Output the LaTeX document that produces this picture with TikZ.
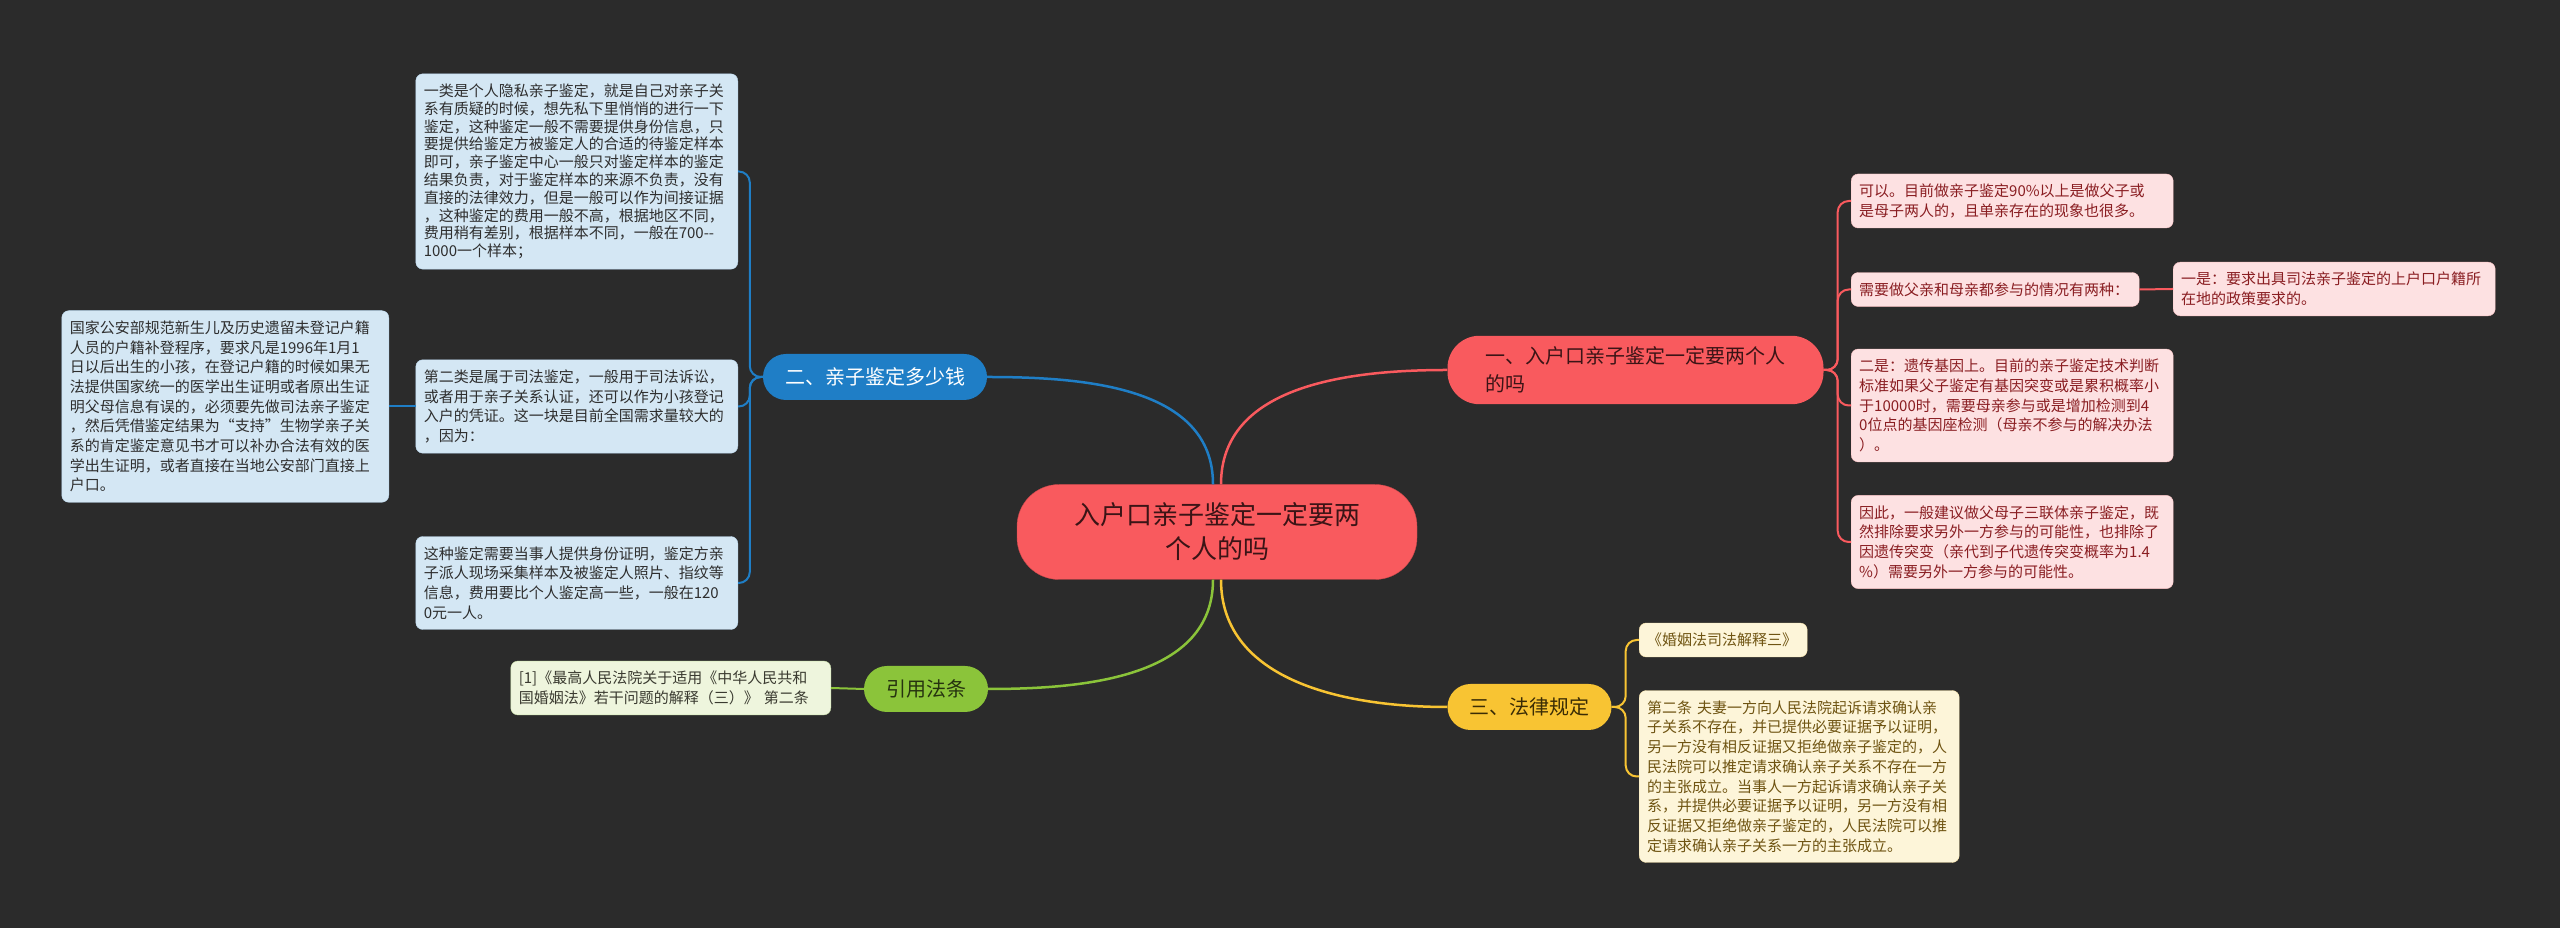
\documentclass[tikz,border=0pt]{standalone}
\usepackage{fontspec}
\setmainfont{Noto Sans CJK SC}
\definecolor{bg}{HTML}{2B2B2B}
\definecolor{rojo}{HTML}{F95A5E}
\definecolor{azul}{HTML}{1F7EC6}
\definecolor{amarillo}{HTML}{F8C433}
\definecolor{verde}{HTML}{8BC43A}
\definecolor{rosa}{HTML}{FDE1E2}
\definecolor{celeste}{HTML}{D4E7F4}
\definecolor{crema}{HTML}{FDF5D9}
\definecolor{pasto}{HTML}{EEF5DD}
\definecolor{tinta}{HTML}{3B1416}
\definecolor{tintarosa}{HTML}{8A1E22}
\definecolor{tintagris}{HTML}{2E2E2E}
\definecolor{tintaocre}{HTML}{6F5412}
\definecolor{tintaoliva}{HTML}{3A3A30}
\definecolor{tintaamar}{HTML}{3A2C05}
\definecolor{tintaverde}{HTML}{26330F}
\begin{document}
\begin{tikzpicture}[x=1pt,y=1pt,
    leaf/.style={rounded corners=7pt, align=left, text width=306pt, inner xsep=8pt, inner ysep=10pt, font=\fontsize{15}{19.7}\selectfont},
    pill/.style={rounded corners=23pt, minimum height=46pt, inner xsep=22pt, font=\fontsize{20}{28}\selectfont}]
    \fill [bg] (0,0) rectangle (2560,928);
    % centro
    \node [fill=rojo, draw=rojo!80!black, text=tinta, rounded corners=42pt, minimum width=400pt, minimum height=95pt, align=center, font=\fontsize{26}{34}\selectfont] (c) at (1217,396) {入户口亲子鉴定一定要两\\个人的吗};
    % ramas
    \node [pill, fill=rojo, text=tinta, text width=300pt, align=left, inner xsep=38pt, inner ysep=11pt, rounded corners=32pt] (r) at (1635.5,558) {一、入户口亲子鉴定一定要两个人\\的吗};
    \node [pill, fill=azul, text=white] (b) at (875,551) {二、亲子鉴定多少钱};
    \node [pill, fill=amarillo, text=tintaamar] (y) at (1529.5,221) {三、法律规定};
    \node [pill, fill=verde, text=tintaverde] (g) at (926,239) {引用法条};
    % hojas rojas
    \node [leaf, fill=rosa, draw=rojo!35, text=tintarosa, anchor=west] (r1) at (1851,727) {可以。目前做亲子鉴定90\%以上是做父子或\\是母子两人的，且单亲存在的现象也很多。};
    \node [leaf, fill=rosa, draw=rojo!35, text=tintarosa, anchor=west, text width=272pt] (r2) at (1851,638.5) {需要做父亲和母亲都参与的情况有两种：};
    \node [leaf, fill=rosa, draw=rojo!35, text=tintarosa, anchor=west] (r2a) at (2173,639) {一是：要求出具司法亲子鉴定的上户口户籍所\\在地的政策要求的。};
    \node [leaf, fill=rosa, draw=rojo!35, text=tintarosa, anchor=west] (r3) at (1851,522.5) {二是：遗传基因上。目前的亲子鉴定技术判断\\标准如果父子鉴定有基因突变或是累积概率小\\于10000时，需要母亲参与或是增加检测到4\\0位点的基因座检测（母亲不参与的解决办法\\）。};
    \node [leaf, fill=rosa, draw=rojo!35, text=tintarosa, anchor=west] (r4) at (1851,386) {因此，一般建议做父母子三联体亲子鉴定，既\\然排除要求另外一方参与的可能性，也排除了\\因遗传突变（亲代到子代遗传突变概率为1.4\\\%）需要另外一方参与的可能性。};
    % hojas azules
    \node [leaf, fill=celeste, draw=azul!30, text=tintagris, anchor=east, font=\fontsize{15}{17.8}\selectfont] (b1) at (738,756.5) {一类是个人隐私亲子鉴定，就是自己对亲子关\\系有质疑的时候，想先私下里悄悄的进行一下\\鉴定，这种鉴定一般不需要提供身份信息，只\\要提供给鉴定方被鉴定人的合适的待鉴定样本\\即可，亲子鉴定中心一般只对鉴定样本的鉴定\\结果负责，对于鉴定样本的来源不负责，没有\\直接的法律效力，但是一般可以作为间接证据\\，这种鉴定的费用一般不高，根据地区不同，\\费用稍有差别，根据样本不同，一般在700{-}{-}\\1000一个样本；};
    \node [leaf, fill=celeste, draw=azul!30, text=tintagris, anchor=east] (b2) at (738,521.5) {第二类是属于司法鉴定，一般用于司法诉讼，\\或者用于亲子关系认证，还可以作为小孩登记\\入户的凭证。这一块是目前全国需求量较大的\\，因为：};
    \node [leaf, fill=celeste, draw=azul!30, text=tintagris, anchor=east, text width=311pt] (b2a) at (389,521.5) {国家公安部规范新生儿及历史遗留未登记户籍\\人员的户籍补登程序，要求凡是1996年1月1\\日以后出生的小孩，在登记户籍的时候如果无\\法提供国家统一的医学出生证明或者原出生证\\明父母信息有误的，必须要先做司法亲子鉴定\\，然后凭借鉴定结果为“支持”生物学亲子关\\系的肯定鉴定意见书才可以补办合法有效的医\\学出生证明，或者直接在当地公安部门直接上\\户口。};
    \node [leaf, fill=celeste, draw=azul!30, text=tintagris, anchor=east] (b3) at (738,345) {这种鉴定需要当事人提供身份证明，鉴定方亲\\子派人现场采集样本及被鉴定人照片、指纹等\\信息，费用要比个人鉴定高一些，一般在120\\0元一人。};
    % hojas amarillas
    \node [leaf, fill=crema, draw=amarillo!40, text=tintaocre, anchor=west, text width=152pt] (y1) at (1639,288) {《婚姻法司法解释三》};
    \node [leaf, fill=crema, draw=amarillo!40, text=tintaocre, anchor=west, text width=304pt] (y2) at (1639,151.5) {第二条 夫妻一方向人民法院起诉请求确认亲\\子关系不存在，并已提供必要证据予以证明，\\另一方没有相反证据又拒绝做亲子鉴定的，人\\民法院可以推定请求确认亲子关系不存在一方\\的主张成立。当事人一方起诉请求确认亲子关\\系，并提供必要证据予以证明，另一方没有相\\反证据又拒绝做亲子鉴定的，人民法院可以推\\定请求确认亲子关系一方的主张成立。};
    % hoja verde
    \node [leaf, fill=pasto, draw=verde!40, text=tintaoliva, anchor=east, text width=304pt] (g1) at (831,240) {[1]《最高人民法院关于适用《中华人民共和\\国婚姻法》若干问题的解释（三）》 第二条};
    % conectores del centro
    \draw [rojo, line width=2.5pt] ([xshift=4pt]c.north) to[out=90,in=180] (r.west);
    \draw [azul, line width=2.5pt] ([xshift=-4pt]c.north) to[out=90,in=0] (b.east);
    \draw [verde, line width=2.5pt] ([xshift=-4pt]c.south) to[out=-90,in=0] (g.east);
    \draw [amarillo, line width=2.5pt] ([xshift=4pt]c.south) to[out=-90,in=180] (y.west);
    % llaves
    \foreach \h in {r1,r2,r3,r4}
        \draw [rojo, line width=2pt, rounded corners=11pt] (r.east) -- ++(14,0) |- (\h.west);
    \draw [rojo, line width=2pt] (r2.east) -- (r2a.west);
    \foreach \h in {b1,b2,b3}
        \draw [azul, line width=2pt, rounded corners=11pt] (b.west) -- ++(-13,0) |- (\h.east);
    \draw [azul, line width=2pt] (b2.west) -- (b2a.east);
    \foreach \h in {y1,y2}
        \draw [amarillo, line width=2pt, rounded corners=11pt] (y.east) -- ++(14,0) |- (\h.west);
    \draw [verde, line width=2pt] (g.west) -- (g1.east);
\end{tikzpicture}
\end{document}
